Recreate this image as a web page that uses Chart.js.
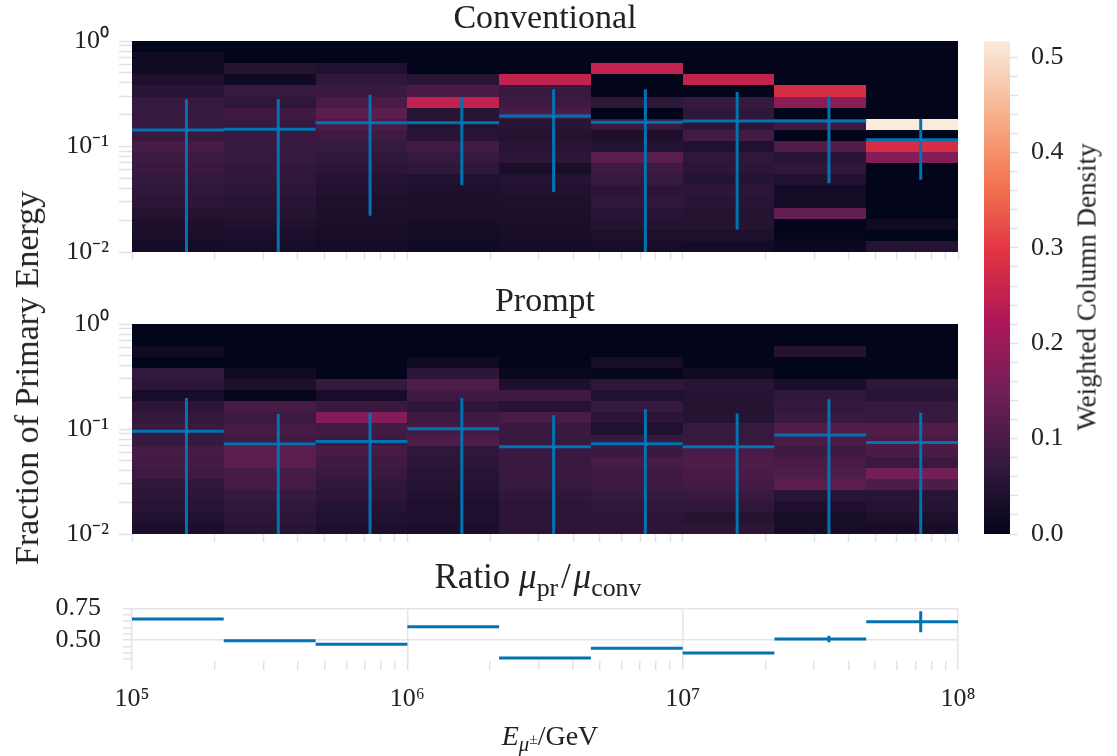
<!DOCTYPE html>
<html>
<head>
<meta charset="utf-8">
<script src="https://cdn.jsdelivr.net/npm/chart.js@4.4.1/dist/chart.umd.min.js"></script>
<style>
  body { margin: 0; background: #fff; }
  #fig { position: relative; width: 1117px; height: 756px; font-family: "Liberation Serif", serif; color: #222; overflow: hidden; }
  #fig canvas { position: absolute; }
  .lab { position: absolute; white-space: nowrap; line-height: 1; }
  .lab sub { font-size: 0.74em; vertical-align: -0.28em; }
  .lab sup { font-size: 0.75em; vertical-align: 0.45em; }
  .sl { margin: 0 0.08em; }
</style>
</head>
<body>
<div id="fig">
  <canvas id="convChart" width="970" height="275" style="left:0;top:0"></canvas>
  <canvas id="promptChart" width="970" height="274" style="left:0;top:283px"></canvas>
  <canvas id="ratioChart" width="1000" height="135" style="left:0;top:590px"></canvas>
  <canvas id="cbarChart" width="110" height="560" style="left:970px;top:0"></canvas>

  <div class="lab" style="left:27px;top:378px;font-size:34px;transform:translate(-50%,-50%) rotate(-90deg)">Fraction of Primary Energy</div>
  <div class="lab" style="left:1087px;top:287px;font-size:27px;transform:translate(-50%,-50%) rotate(-90deg)">Weighted Column Density</div>
  <div class="lab" style="left:538px;top:580px;font-size:35px;transform:translate(-50%,-50%)">Ratio <i>μ</i><sub>pr</sub><span class="sl">/</span><i>μ</i><sub>conv</sub></div>
  <div class="lab" style="left:550px;top:738px;font-size:28px;transform:translate(-50%,-50%)"><i>E</i><sub><i>μ</i><sup>±</sup></sub>/GeV</div>
</div>

<script>
// === Data ===
const xEdges = [1e5, 2.154e5, 4.642e5, 1e6, 2.154e6, 4.642e6, 1e7, 2.154e7, 4.642e7, 1e8];
const xCenters = [1.577e5, 3.398e5, 7.321e5, 1.577e6, 3.398e6, 7.321e6, 1.577e7, 3.398e7, 7.321e7];
const yEdges = [0.01, 0.012743, 0.016238, 0.020691, 0.026367, 0.033598, 0.042813, 0.054556, 0.069519, 0.088587,
                0.112884, 0.143845, 0.183298, 0.233572, 0.297635, 0.379269, 0.483293, 0.615848, 0.784760, 1.0];

// density per energy bin, listed from the lowest fraction bin upwards
const convDensity = [
  [0.025, 0.035, 0.04, 0.05, 0.06, 0.065, 0.07, 0.08, 0.085, 0.095, 0.08, 0.08, 0.075, 0.075, 0.055, 0.04, 0.02, 0.02, 0],
  [0.03, 0.035, 0.045, 0.05, 0.055, 0.06, 0.065, 0.07, 0.075, 0.08, 0.08, 0.075, 0.085, 0.065, 0.075, 0.02, 0.05, 0, 0],
  [0.025, 0.03, 0.035, 0.037, 0.04, 0.045, 0.05, 0.06, 0.065, 0.075, 0.085, 0.10, 0.12, 0.10, 0.08, 0.065, 0.045, 0, 0],
  [0.02, 0.025, 0.03, 0.035, 0.037, 0.04, 0.045, 0.065, 0.075, 0.09, 0.055, 0.05, 0.055, 0.25, 0.10, 0.055, 0, 0, 0],
  [0.025, 0.03, 0.035, 0.037, 0.04, 0.045, 0.05, 0.035, 0.06, 0.055, 0.05, 0.055, 0.10, 0.085, 0.08, 0.25, 0, 0, 0],
  [0.03, 0.04, 0.05, 0.055, 0.065, 0.06, 0.075, 0.085, 0.12, 0.05, 0.04, 0.08, 0, 0.065, 0, 0, 0.25, 0, 0],
  [0.025, 0.04, 0.05, 0.05, 0.055, 0.06, 0.05, 0.06, 0.065, 0.045, 0.09, 0.06, 0.065, 0.075, 0, 0.25, 0, 0, 0],
  [0.012, 0.003, 0, 0.13, 0.025, 0.025, 0.045, 0.065, 0.055, 0.11, 0, 0.085, 0, 0.18, 0.28, 0, 0, 0, 0],
  [0.05, 0, 0.02, 0, 0, 0, 0, 0, 0.17, 0.28, 0, 0.517, 0, 0, 0, 0, 0, 0, 0]
];
const promptDensity = [
  [0.035, 0.045, 0.055, 0.06, 0.065, 0.085, 0.09, 0.095, 0.075, 0.08, 0.07, 0.06, 0.03, 0.06, 0.07, 0, 0.02, 0, 0],
  [0.055, 0.06, 0.065, 0.075, 0.095, 0.095, 0.12, 0.12, 0.085, 0.095, 0.085, 0.095, 0.005, 0.04, 0.02, 0, 0, 0, 0],
  [0.04, 0.045, 0.05, 0.06, 0.065, 0.08, 0.085, 0.095, 0.085, 0.09, 0.17, 0.08, 0.03, 0.075, 0, 0, 0, 0, 0],
  [0.035, 0.038, 0.04, 0.045, 0.05, 0.055, 0.06, 0.065, 0.105, 0.09, 0.085, 0.065, 0.085, 0.105, 0.06, 0.02, 0, 0, 0],
  [0.06, 0.06, 0.06, 0.065, 0.075, 0.08, 0.08, 0.08, 0.075, 0.08, 0.10, 0.05, 0.085, 0.04, 0.01, 0, 0, 0, 0],
  [0.06, 0.06, 0.065, 0.075, 0.085, 0.085, 0.095, 0.08, 0.075, 0.045, 0.06, 0.075, 0.045, 0.065, 0.005, 0.03, 0, 0, 0],
  [0.06, 0.05, 0.065, 0.08, 0.09, 0.10, 0.105, 0.10, 0.075, 0.075, 0.05, 0.05, 0.05, 0.055, 0.02, 0, 0, 0, 0],
  [0.03, 0.03, 0.04, 0.055, 0.12, 0.105, 0.10, 0.085, 0.10, 0.11, 0.08, 0.07, 0.065, 0.035, 0, 0, 0.05, 0, 0],
  [0.03, 0.04, 0.05, 0.055, 0.105, 0.15, 0.08, 0.10, 0.10, 0.11, 0.075, 0.075, 0.055, 0.065, 0, 0, 0, 0, 0]
];

const convMedian = [0.143, 0.146, 0.168, 0.168, 0.195, 0.170, 0.174, 0.174, 0.116];
const convLow    = [0.005, 0.005, 0.022, 0.043, 0.037, 0.005, 0.0163, 0.0448, 0.0485];
const convHigh   = [0.280, 0.282, 0.310, 0.290, 0.348, 0.348, 0.329, 0.299, 0.182];

const promptMedian = [0.095, 0.0718, 0.0762, 0.1005, 0.0678, 0.0724, 0.0678, 0.0875, 0.0745];
const promptLow    = [0.005, 0.005, 0.005, 0.005, 0.005, 0.005, 0.005, 0.005, 0.005];
const promptHigh   = [0.197, 0.139, 0.1427, 0.197, 0.1355, 0.1545, 0.1406, 0.192, 0.1427];

const ratioValue = [0.666, 0.494, 0.466, 0.605, 0.358, 0.435, 0.397, 0.508, 0.644];
const ratioErr   = [0.002, 0.002, 0.002, 0.002, 0.002, 0.003, 0.006, 0.025, 0.083];

const densityMax = 0.517;

// === Ticks ===
const xTickValues = [1e5, 1e6, 1e7, 1e8];
const xTickLabels = ['10⁵', '10⁶', '10⁷', '10⁸'];
const xMinorTicks = [2e5, 3e5, 4e5, 5e5, 6e5, 7e5, 8e5, 9e5, 2e6, 3e6, 4e6, 5e6, 6e6, 7e6, 8e6, 9e6,
                     2e7, 3e7, 4e7, 5e7, 6e7, 7e7, 8e7, 9e7];
const yTickValues = [0.01, 0.1, 1];
const yTickLabels = ['10⁻²', '10⁻¹', '10⁰'];
const yMinorTicks = [0.02, 0.03, 0.04, 0.05, 0.06, 0.07, 0.08, 0.09, 0.2, 0.3, 0.4, 0.5, 0.6, 0.7, 0.8, 0.9];
const ratioTickValues = [0.5, 0.75];
const ratioTickLabels = ['0.50', '0.75'];
const ratioMinorTicks = [0.35, 0.40, 0.45, 0.55, 0.60, 0.65, 0.70];
const cbarTickValues = [0, 0.1, 0.2, 0.3, 0.4, 0.5];
const cbarTickLabels = ['0.0', '0.1', '0.2', '0.3', '0.4', '0.5'];
const cbarMinorTicks = [0.02, 0.04, 0.06, 0.08, 0.12, 0.14, 0.16, 0.18, 0.22, 0.24, 0.26, 0.28,
                        0.32, 0.34, 0.36, 0.38, 0.42, 0.44, 0.46, 0.48];

// rocket colour map
const rocketStops = [
  [0.000, 3, 5, 26], [0.143, 53, 25, 62], [0.286, 112, 31, 87], [0.429, 173, 23, 89],
  [0.571, 225, 51, 66], [0.714, 243, 118, 81], [0.857, 246, 180, 143], [1.000, 250, 235, 221]
];
function rocket(t) {
  t = Math.max(0, Math.min(1, t));
  for (let i = 1; i < rocketStops.length; i++) {
    const a = rocketStops[i - 1], b = rocketStops[i];
    if (t <= b[0]) {
      const f = (t - a[0]) / (b[0] - a[0]);
      return 'rgb(' + [1, 2, 3].map(k => Math.round(a[k] + f * (b[k] - a[k]))).join(',') + ')';
    }
  }
  return 'rgb(250,235,221)';
}

const BLUE = '#0173b2';
const TICK = '#e1e1eb';
const GRID = '#e4e4ea';

Chart.defaults.font.family = '"Liberation Serif", serif';
Chart.defaults.color = '#222';
Chart.defaults.animation = false;

function segments(edges, vals) {
  const pts = [];
  vals.forEach((v, i) => {
    pts.push({ x: edges[i], y: v }, { x: edges[i + 1], y: v }, { x: edges[i + 1], y: null });
  });
  return pts;
}
function errorBars(centers, lo, hi) {
  const pts = [];
  centers.forEach((c, i) => {
    pts.push({ x: c, y: lo[i] }, { x: c, y: hi[i] }, { x: c, y: null });
  });
  return pts;
}
function setTicks(majors, minors) {
  return scale => {
    scale.ticks = majors.concat(minors).sort((a, b) => a - b).map(v => ({ value: v }));
  };
}
function labelFor(majors, labels) {
  return value => {
    const i = majors.indexOf(value);
    return i >= 0 ? labels[i] : '';
  };
}
// fixed axis size, and no extra room asked for by the edge labels
function fixSize(prop, size) {
  return scale => {
    scale[prop] = size;
    scale.paddingTop = scale.paddingBottom = scale.paddingLeft = scale.paddingRight = 0;
  };
}

const heatmap = density => ({
  id: 'heatmap',
  beforeDatasetsDraw(chart) {
    const { ctx, scales: { x, y } } = chart;
    ctx.save();
    density.forEach((col, i) => {
      const x0 = Math.round(x.getPixelForValue(xEdges[i]));
      const x1 = Math.round(x.getPixelForValue(xEdges[i + 1]));
      col.forEach((v, j) => {
        const yb = Math.round(y.getPixelForValue(yEdges[j]));
        const yt = Math.round(y.getPixelForValue(yEdges[j + 1]));
        ctx.fillStyle = rocket(v / densityMax);
        ctx.fillRect(x0, yt, x1 - x0, yb - yt);
      });
    });
    ctx.restore();
  }
});

function densityPanel(id, title, density, median, lo, hi) {
  new Chart(document.getElementById(id), {
    type: 'line',
    data: {
      datasets: [
        { data: segments(xEdges, median), borderColor: BLUE, borderWidth: 3, pointRadius: 0, spanGaps: false, clip: 0 },
        { data: errorBars(xCenters, lo, hi), borderColor: BLUE, borderWidth: 3, pointRadius: 0, spanGaps: false, clip: 0 }
      ]
    },
    options: {
      responsive: false,
      devicePixelRatio: 1,
      layout: { padding: { left: 0, right: 12, top: 0, bottom: 0 } },
      plugins: {
        legend: { display: false },
        tooltip: { enabled: false },
        title: {
          display: true, text: title, fullSize: false, color: '#222',
          font: { size: 34, weight: 'normal', lineHeight: 1 },
          padding: { top: 2, bottom: 5 }
        }
      },
      scales: {
        x: {
          type: 'logarithmic', min: 1e5, max: 1e8,
          afterBuildTicks: setTicks(xTickValues, xMinorTicks),
          afterFit: fixSize('height', 23),
          ticks: { display: false, autoSkip: false },
          grid: { drawOnChartArea: false, tickLength: 8, tickColor: TICK, tickWidth: 1.5 },
          border: { display: false }
        },
        y: {
          type: 'logarithmic', min: 0.01, max: 1,
          afterBuildTicks: setTicks(yTickValues, yMinorTicks),
          afterFit: fixSize('width', 132),
          ticks: { autoSkip: false, padding: 10, font: { size: 26 }, color: '#222', callback: labelFor(yTickValues, yTickLabels) },
          grid: { drawOnChartArea: false, tickLength: 13, tickColor: TICK, tickWidth: 1.5 },
          border: { display: false }
        }
      }
    },
    plugins: [heatmap(density)]
  });
}

// === Conventional / Prompt ===
densityPanel('convChart', 'Conventional', convDensity, convMedian, convLow, convHigh);
densityPanel('promptChart', 'Prompt', promptDensity, promptMedian, promptLow, promptHigh);

// === Ratio ===
const ratioLow = ratioValue.map((v, i) => v - ratioErr[i]);
const ratioHigh = ratioValue.map((v, i) => v + ratioErr[i]);
new Chart(document.getElementById('ratioChart'), {
  type: 'line',
  data: {
    datasets: [
      { data: segments(xEdges, ratioValue), borderColor: BLUE, borderWidth: 3, pointRadius: 0, spanGaps: false, clip: 0 },
      { data: errorBars(xCenters, ratioLow, ratioHigh), borderColor: BLUE, borderWidth: 3, pointRadius: 0, spanGaps: false, clip: 0 }
    ]
  },
  options: {
    responsive: false,
    devicePixelRatio: 1,
    layout: { padding: { left: 0, right: 42, top: 18, bottom: 0 } },
    plugins: { legend: { display: false }, tooltip: { enabled: false } },
    scales: {
      x: {
        type: 'logarithmic', min: 1e5, max: 1e8,
        afterBuildTicks: setTicks(xTickValues, xMinorTicks),
        afterFit: fixSize('height', 64),
        ticks: { autoSkip: false, maxRotation: 0, padding: 14, font: { size: 26 }, color: '#222', callback: labelFor(xTickValues, xTickLabels) },
        grid: {
          tickLength: 9, tickColor: TICK, tickWidth: 1.5, lineWidth: 1.5,
          color: c => (c.tick && xTickValues.includes(c.tick.value)) ? GRID : 'rgba(0,0,0,0)'
        },
        border: { display: false }
      },
      y: {
        type: 'linear', min: 0.3344, max: 0.7524,
        afterBuildTicks: setTicks(ratioTickValues, ratioMinorTicks),
        afterFit: fixSize('width', 132),
        ticks: { autoSkip: false, padding: 22, font: { size: 26 }, color: '#222', callback: labelFor(ratioTickValues, ratioTickLabels) },
        grid: {
          tickLength: 9, tickColor: TICK, tickWidth: 1.5, lineWidth: 1.5,
          color: c => (c.tick && ratioTickValues.includes(c.tick.value)) ? GRID : 'rgba(0,0,0,0)'
        },
        border: { display: false }
      }
    }
  }
});

// === Colour bar ===
const colorbar = {
  id: 'colorbar',
  beforeDatasetsDraw(chart) {
    const { ctx, chartArea: a } = chart;
    const g = ctx.createLinearGradient(0, a.bottom, 0, a.top);
    rocketStops.forEach(s => g.addColorStop(s[0], 'rgb(' + s[1] + ',' + s[2] + ',' + s[3] + ')'));
    ctx.save();
    ctx.fillStyle = g;
    ctx.fillRect(a.left, a.top, a.right - a.left, a.bottom - a.top);
    ctx.restore();
  }
};
new Chart(document.getElementById('cbarChart'), {
  type: 'scatter',
  data: { datasets: [] },
  options: {
    responsive: false,
    devicePixelRatio: 1,
    layout: { padding: { left: 14, right: 0, top: 41, bottom: 26 } },
    plugins: { legend: { display: false }, tooltip: { enabled: false } },
    scales: {
      x: { type: 'linear', display: false, min: 0, max: 1 },
      y: {
        type: 'linear', position: 'right', min: 0, max: densityMax,
        afterBuildTicks: setTicks(cbarTickValues, cbarMinorTicks),
        afterFit: fixSize('width', 70),
        ticks: { autoSkip: false, padding: 13, font: { size: 26 }, color: '#222', callback: labelFor(cbarTickValues, cbarTickLabels) },
        grid: { drawOnChartArea: false, tickLength: 8, tickColor: TICK, tickWidth: 1.5 },
        border: { display: false }
      }
    }
  },
  plugins: [colorbar]
});
</script>
</body>
</html>
